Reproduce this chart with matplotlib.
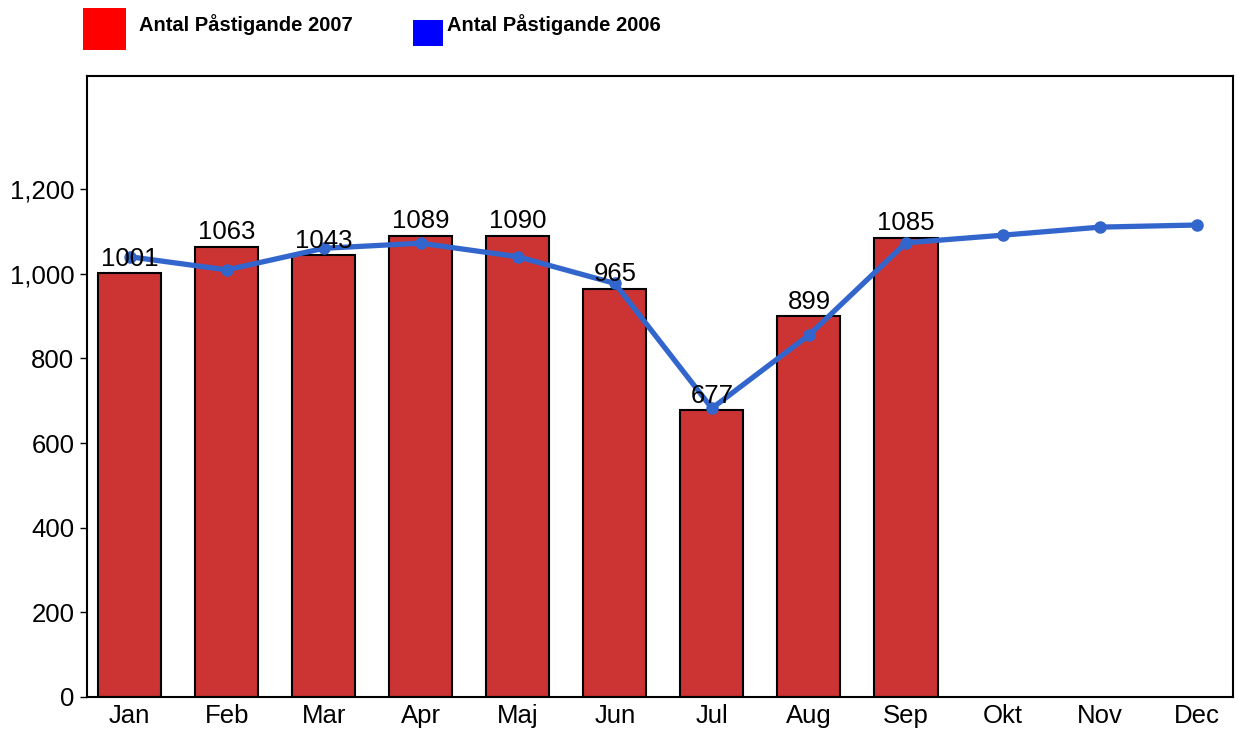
import matplotlib
matplotlib.use("Agg")
import matplotlib.pyplot as plt
from matplotlib.patches import Rectangle

plt.rcParams['font.family'] = ['Liberation Sans', 'DejaVu Sans']

months = ["Jan", "Feb", "Mar", "Apr", "Maj", "Jun", "Jul", "Aug", "Sep", "Okt", "Nov", "Dec"]
vals_2007 = [1001, 1063, 1043, 1089, 1090, 965, 677, 899, 1085]
vals_2006 = [1040, 1009, 1060, 1072, 1040, 977, 682, 855, 1073, 1091, 1110, 1115]
yticks = [0, 200, 400, 600, 800, 1000, 1200]

W, H = 1238, 735
fig = plt.figure(figsize=(W / 100, H / 100), dpi=100)
ax = fig.add_axes([87 / W, (H - 697) / H, (1233 - 87) / W, (697 - 76) / H])

x07 = list(range(len(vals_2007)))
x06 = list(range(len(vals_2006)))
ax.bar(x07, vals_2007, width=0.65, color="#CC3333", edgecolor="black", linewidth=1.5, zorder=2)
for xi, v in zip(x07, vals_2007):
    ax.text(xi, v + 6, str(v), ha="center", va="bottom", fontsize=18.5, color="black", zorder=4)
ax.plot(x06, vals_2006, color="#3366CC", linewidth=3.8, marker="o", markersize=8, zorder=3)

ax.set_xlim(-0.44, 11.37)
ax.set_ylim(0, 1467)
ax.set_xticks(range(len(months)))
ax.set_xticklabels(months, fontsize=18.5)
ax.set_yticks(yticks)
ax.set_yticklabels([f"{t:,}" for t in yticks], fontsize=18.5)
ax.tick_params(axis="x", length=0, pad=5)
ax.tick_params(axis="y", length=5, width=1, pad=4)
for s in ax.spines.values():
    s.set_linewidth(1.5)

# legend
fig.patches.append(Rectangle((83 / W, 1 - 50 / H), 43 / W, 42 / H, transform=fig.transFigure,
                             facecolor="#FF0000", edgecolor="none"))
fig.text(139 / W, 1 - 25 / H, "Antal Påstigande 2007", fontsize=14.5, fontweight="bold", va="center", ha="left")
fig.patches.append(Rectangle((413 / W, 1 - 46 / H), 30 / W, 26 / H, transform=fig.transFigure,
                             facecolor="#0000FF", edgecolor="none"))
fig.text(447 / W, 1 - 25 / H, "Antal Påstigande 2006", fontsize=14.5, fontweight="bold", va="center", ha="left")

fig.savefig("out.png", dpi=100)
